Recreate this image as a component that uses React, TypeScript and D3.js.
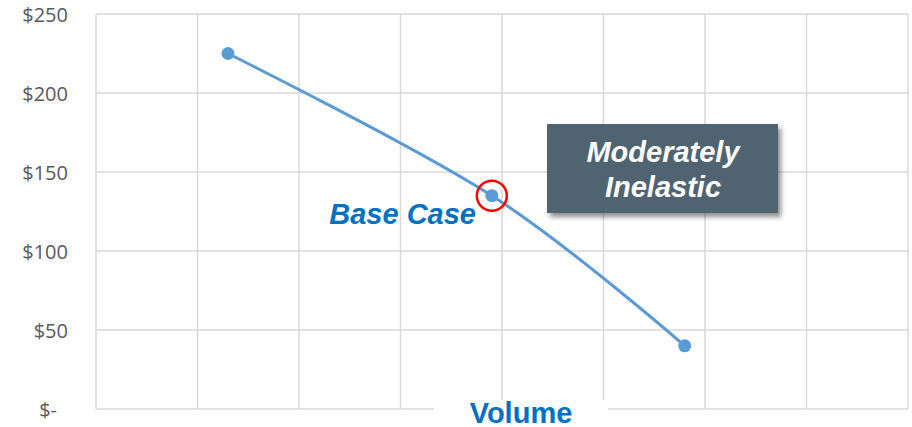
import * as d3 from 'd3';
import React from 'react';

// chart data
const volumes = [1.3, 3.9, 5.8];
const prices = [225, 135, 40];
const priceTicks = [0, 50, 100, 150, 200, 250];
const volumeGrid = [0, 1, 2, 3, 4, 5, 6, 7, 8];
const baseCaseIndex = 1;

const W = 912;
const H = 427;

export default function App() {
  const x = d3.scaleLinear().domain([0, 8]).range([96, 908]);
  const y = d3.scaleLinear().domain([0, 250]).range([409, 14]);

  const line = d3.line<number>()
    .x((d, i) => x(volumes[i]))
    .y(d => y(d))
    .curve(d3.curveCardinal.tension(0));

  const fmt = (v: number) => (v === 0 ? '$-' : '$' + v);

  return (
    <svg width={W} height={H} style={{ position: 'absolute', left: 0, top: 0, background: '#fff' }}>
      <defs>
        <filter id="shadow" x="-10%" y="-10%" width="130%" height="140%">
          <feDropShadow dx="3" dy="4" stdDeviation="2.5" floodColor="#000" floodOpacity="0.45" />
        </filter>
      </defs>

      {/* gridlines */}
      {priceTicks.map(t => (
        <line key={'h' + t} x1={96} x2={908} y1={y(t)} y2={y(t)} stroke="#d9d9d9" strokeWidth={1.5} />
      ))}
      {volumeGrid.map(v => (
        <line key={'v' + v} x1={x(v)} x2={x(v)} y1={y(250)} y2={y(0)} stroke="#d9d9d9" strokeWidth={1.5} />
      ))}

      {/* y labels */}
      {priceTicks.map(t => (
        <text key={'l' + t} x={t === 0 ? 57 : 68} y={y(t) + 7.5} textAnchor="end"
          fontFamily="'Open Sans', 'Liberation Sans', sans-serif" fontSize={20} fill="#595959">
          {fmt(t)}
        </text>
      ))}

      {/* curve */}
      <path d={line(prices) || ''} fill="none" stroke="#5b9bd5" strokeWidth={3} />
      {prices.map((p, i) => (
        <circle key={'p' + i} cx={x(volumes[i])} cy={y(p)} r={6.5} fill="#5b9bd5" />
      ))}

      {/* base case marker */}
      <circle cx={x(volumes[baseCaseIndex])} cy={y(prices[baseCaseIndex])} r={15}
        fill="none" stroke="#ff0000" strokeWidth={2.5} />
      <text x={476} y={224} textAnchor="end" fontFamily="'Liberation Sans', Arial, sans-serif"
        fontWeight="bold" fontStyle="italic" fontSize={29} fill="#0070c0">Base Case</text>

      {/* annotation box */}
      <rect x={547} y={124} width={231} height={89} fill="#4f6470" filter="url(#shadow)" />
      <text x={663} y={162} textAnchor="middle" fontFamily="'Liberation Sans', Arial, sans-serif"
        fontWeight="bold" fontStyle="italic" fontSize={29} fill="#fff">Moderately</text>
      <text x={663} y={197} textAnchor="middle" fontFamily="'Liberation Sans', Arial, sans-serif"
        fontWeight="bold" fontStyle="italic" fontSize={29} fill="#fff">Inelastic</text>

      {/* axis title */}
      <rect x={434} y={400} width={174} height={27} fill="#fff" />
      <text x={521} y={423} textAnchor="middle" fontFamily="'Liberation Sans', Arial, sans-serif"
        fontWeight="bold" fontSize={29} fill="#0070c0">Volume</text>
    </svg>
  );
}
